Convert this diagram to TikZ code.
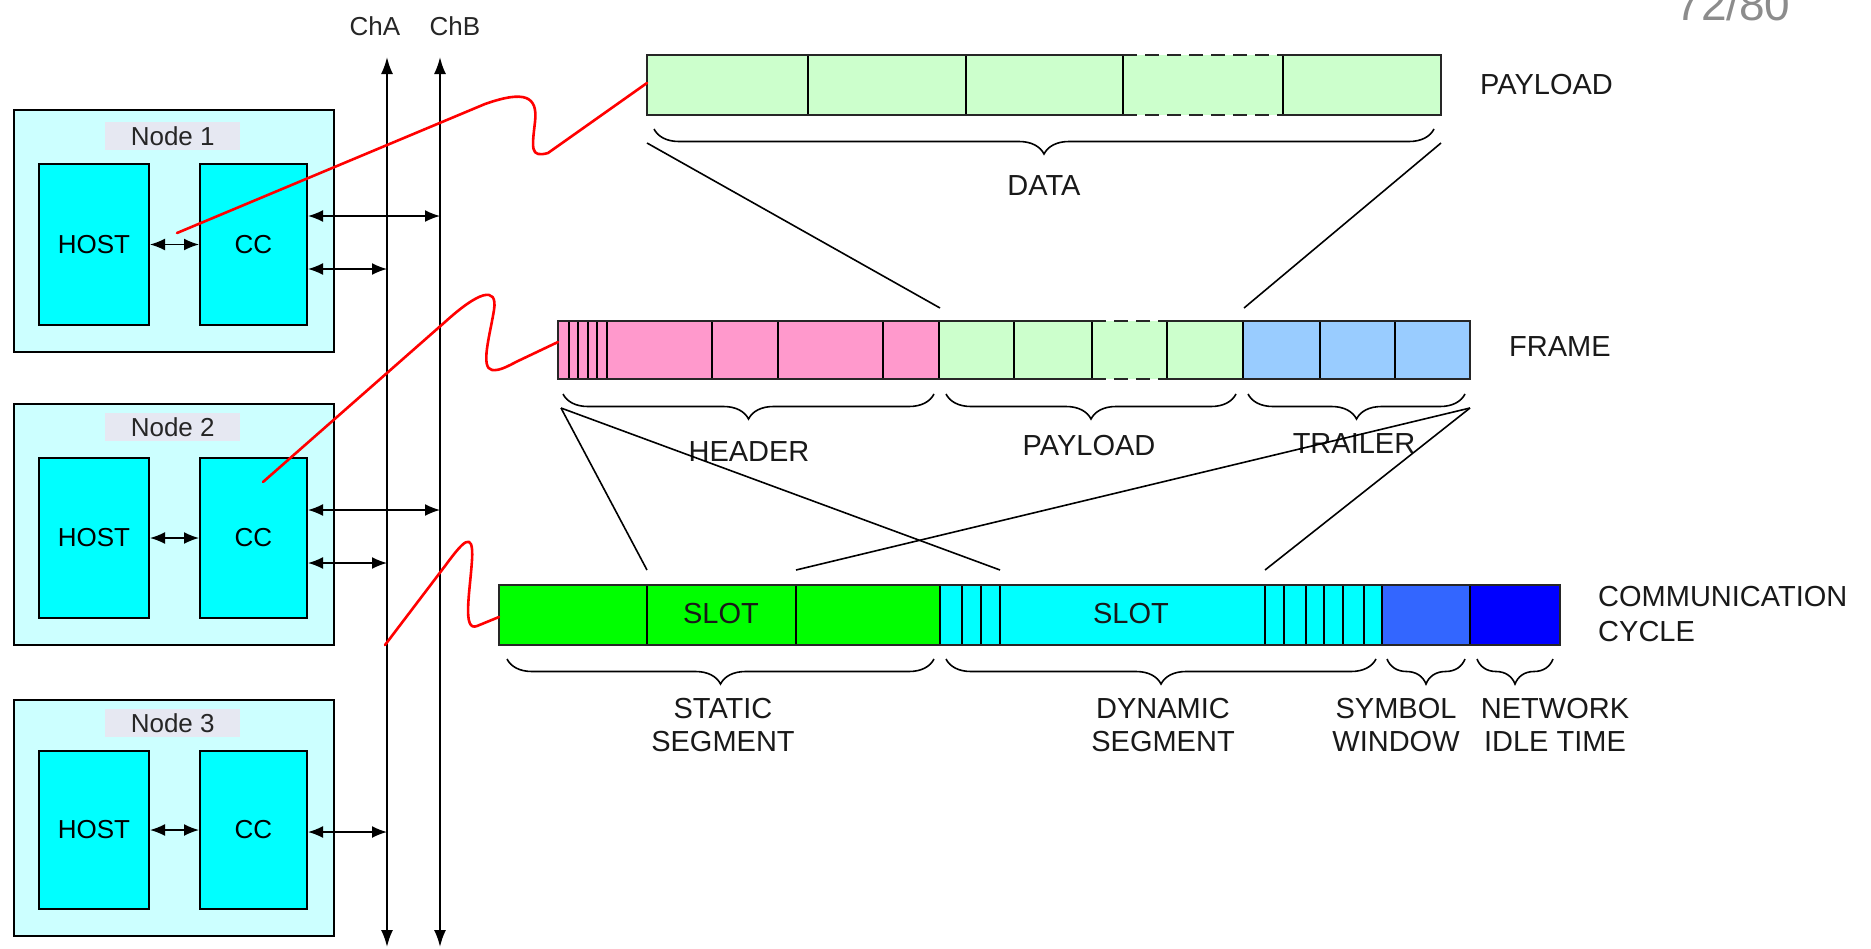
\documentclass[tikz,border=0pt]{standalone}
\usepackage{fontspec}
\setmainfont{Liberation Sans}
\usetikzlibrary{arrows.meta,decorations.pathreplacing}
\definecolor{nodebg}{HTML}{CCFFFF}
\definecolor{cyanbox}{HTML}{00FFFF}
\definecolor{lblbg}{HTML}{E6E8F2}
\definecolor{pinkc}{HTML}{FF99CC}
\definecolor{lgreen}{HTML}{CCFFCC}
\definecolor{lblue}{HTML}{99CCFF}
\definecolor{sgreen}{HTML}{00FF00}
\definecolor{symb}{HTML}{3366FF}
\definecolor{nitc}{HTML}{0000FF}
\definecolor{pagegray}{HTML}{8C8C8C}
\begin{document}
\begin{tikzpicture}[x=1pt,y=-1pt,
  outerbox/.style={draw, line width=2pt, fill=nodebg, anchor=north west, inner sep=0pt},
  innerbox/.style={draw, line width=2pt, fill=cyanbox, anchor=north west, inner sep=0pt, font=\fontsize{26}{30}\selectfont},
  lblbox/.style={fill=lblbg, anchor=north west, inner sep=0pt, minimum width=135pt, minimum height=28pt, font=\fontsize{26}{30}\selectfont, text=black!85},
  barnode/.style={anchor=north west, inner sep=0pt},
  biarrow/.style={{Latex[length=15pt,width=12pt]}-{Latex[length=15pt,width=12pt]}, line width=1.6pt},
  busline/.style={{Latex[length=17pt,width=12pt]}-{Latex[length=17pt,width=12pt]}, line width=2pt},
  redline/.style={red, line width=2.6pt, line cap=round, line join=round},
  barborder/.style={line width=2.2pt, black!85},
  divider/.style={line width=1.6pt},
  dashborder/.style={line width=2.2pt, black!85, dash pattern=on 14pt off 8pt},
  linkline/.style={line width=1.6pt},
  bracestyle/.style={decorate, decoration={brace, mirror, amplitude=25pt, aspect=0.5}, line width=1.6pt},
  lbl/.style={font=\fontsize{29}{33}\selectfont, inner sep=0pt, text=black!90},
  chlbl/.style={font=\fontsize{26}{30}\selectfont, inner sep=0pt, text=black!85}
]
\useasboundingbox (0,0) rectangle (1871,948);

% page number
\node[font=\fontsize{46}{50}\selectfont, text=pagegray, anchor=base, inner sep=0pt] (pagenum) at (1733,20) {72/80};

% ---------- bus ----------
\coordinate (chAtop) at (387,57);
\coordinate (chAbot) at (387,947);
\coordinate (chBtop) at (440,57);
\coordinate (chBbot) at (440,947);
\draw[busline] (chAtop) -- (chAbot);
\draw[busline] (chBtop) -- (chBbot);
\node[chlbl] (chAl) at (375,26) {ChA};
\node[chlbl] (chBl) at (455,26) {ChB};

% ---------- Node 1 ----------
\node[outerbox, minimum width=320pt, minimum height=242pt] (n1) at (13,109) {};
\node[lblbox] (n1l) at (105,122) {Node 1};
\node[innerbox, minimum width=110pt, minimum height=161pt] (h1) at (38,163) {HOST};
\node[innerbox, minimum width=107pt, minimum height=161pt] (c1) at (199,163) {CC};
\draw[biarrow] (h1.east) -- (c1.west);
\coordinate (b1B) at (440,216);
\coordinate (b1A) at (387,269);
\draw[biarrow] (c1.east |- b1B) -- (b1B);
\draw[biarrow] (c1.east |- b1A) -- (b1A);

% ---------- Node 2 ----------
\node[outerbox, minimum width=320pt, minimum height=241pt] (n2) at (13,403) {};
\node[lblbox] (n2l) at (105,413) {Node 2};
\node[innerbox, minimum width=110pt, minimum height=160pt] (h2) at (38,457) {HOST};
\node[innerbox, minimum width=107pt, minimum height=160pt] (c2) at (199,457) {CC};
\draw[biarrow] (h2.east) -- (c2.west);
\coordinate (b2B) at (440,510);
\coordinate (b2A) at (387,563);
\draw[biarrow] (c2.east |- b2B) -- (b2B);
\draw[biarrow] (c2.east |- b2A) -- (b2A);

% ---------- Node 3 ----------
\node[outerbox, minimum width=320pt, minimum height=236pt] (n3) at (13,699) {};
\node[lblbox] (n3l) at (105,709) {Node 3};
\node[innerbox, minimum width=110pt, minimum height=158pt] (h3) at (38,750) {HOST};
\node[innerbox, minimum width=107pt, minimum height=158pt] (c3) at (199,750) {CC};
\draw[biarrow] (h3.east) -- (c3.west);
\coordinate (b3A) at (387,832);
\draw[biarrow] (c3.east |- b3A) -- (b3A);

% ---------- PAYLOAD bar ----------
\node[barnode, minimum width=794pt, minimum height=60pt] (pl) at (647,55) {};
\fill[lgreen] (647,55) rectangle (1441,115);
\foreach \x in {808,966,1123,1283} \draw[divider] (\x,55) -- (\x,115);
\draw[barborder] (1123,55) -- (647,55) -- (647,115) -- (1123,115);
\draw[barborder] (1283,55) -- (1441,55) -- (1441,115) -- (1283,115);
\draw[dashborder] (1123,55) -- (1283,55);
\draw[dashborder] (1123,115) -- (1283,115);
\node[lbl, anchor=west] (plname) at (1480,85) {PAYLOAD};
\draw[bracestyle] (654,129) -- (1434,129);
\node[lbl] (datal) at (1044,186) {DATA};

% ---------- FRAME bar ----------
\node[barnode, minimum width=912pt, minimum height=58pt] (fr) at (558,321) {};
\fill[pinkc] (558,321) rectangle (939,379);
\fill[lgreen] (939,321) rectangle (1243,379);
\fill[lblue] (1243,321) rectangle (1470,379);
\foreach \x in {569,578,588,597,607,712,778,883,939,1014,1092,1167,1243,1320,1395} \draw[divider] (\x,321) -- (\x,379);
\draw[barborder] (1092,321) -- (558,321) -- (558,379) -- (1092,379);
\draw[barborder] (1167,321) -- (1470,321) -- (1470,379) -- (1167,379);
\draw[dashborder] (1092,321) -- (1167,321);
\draw[dashborder] (1092,379) -- (1167,379);
\node[lbl, anchor=west] (frname) at (1509,347) {FRAME};
\draw[bracestyle] (563,394) -- (934,394);
\draw[bracestyle] (946,394) -- (1236,394);
\draw[bracestyle] (1248,394) -- (1465,394);
\node[lbl] (hdrl) at (749,452) {HEADER};
\node[lbl] (fpll) at (1089,446) {PAYLOAD};
\node[lbl] (trll) at (1354,444) {TRAILER};

% ---------- COMMUNICATION CYCLE bar ----------
\node[barnode, minimum width=1061pt, minimum height=60pt] (cm) at (499,585) {};
\fill[sgreen] (499,585) rectangle (940,645);
\fill[cyanbox] (940,585) rectangle (1382,645);
\fill[symb] (1382,585) rectangle (1470,645);
\fill[nitc] (1470,585) rectangle (1560,645);
\foreach \x in {647,796,940,962,981,1000,1265,1284,1306,1324,1343,1364,1382,1470} \draw[divider] (\x,585) -- (\x,645);
\draw[barborder] (499,585) rectangle (1560,645);
\node[lbl] (slot1) at (721,614) {SLOT};
\node[lbl] (slot2) at (1131,614) {SLOT};
\node[lbl, anchor=west, align=left] (cmname) at (1598,614) {COMMUNICATION\\[2pt]CYCLE};
\draw[bracestyle] (507,659) -- (934,659);
\draw[bracestyle] (946,659) -- (1376,659);
\draw[bracestyle] (1387,659) -- (1465,659);
\draw[bracestyle] (1477,659) -- (1553,659);
\node[lbl, align=center] (statl) at (723,725) {STATIC\\SEGMENT};
\node[lbl, align=center] (dynl) at (1163,725) {DYNAMIC\\SEGMENT};
\node[lbl, align=center] (syml) at (1396,725) {SYMBOL\\WINDOW};
\node[lbl, align=center] (nitl) at (1555,725) {NETWORK\\IDLE TIME};

% ---------- expansion lines ----------
\coordinate (pdl) at (647,143);
\coordinate (pdr) at (1441,143);
\coordinate (fgl) at (940,308);
\coordinate (fgr) at (1244,308);
\draw[linkline] (pdl) -- (fgl);
\draw[linkline] (pdr) -- (fgr);
\coordinate (fbl) at (561,408);
\coordinate (fbr) at (1470,408);
\coordinate (s1l) at (647,570);
\coordinate (s1r) at (1000,570);
\coordinate (s2l) at (796,570);
\coordinate (s2r) at (1265,570);
\draw[linkline] (fbl) -- (s1l);
\draw[linkline] (fbl) -- (s1r);
\draw[linkline] (fbr) -- (s2l);
\draw[linkline] (fbr) -- (s2r);

% ---------- red zoom lines ----------
\coordinate (r1s) at (177,233);
\coordinate (r2s) at (263,482);
\coordinate (r3s) at (385,645);
\draw[redline] (r1s) -- (485,104) .. controls (525,90) and (538,96) .. (535,122)
  .. controls (532,148) and (530,158) .. (548,153) -- (pl.west |- 0,83);
\draw[redline] (r2s) -- (445,322) .. controls (478,292) and (498,285) .. (494,310)
  .. controls (490,335) and (480,368) .. (492,370) .. controls (500,371) and (508,366) .. (518,361) -- (fr.west |- 0,342);
\draw[redline] (r3s) -- (445,566) .. controls (462,543) and (474,528) .. (472,560)
  .. controls (470,592) and (462,632) .. (477,626) -- (cm.west |- 0,617);
\end{tikzpicture}
\end{document}
